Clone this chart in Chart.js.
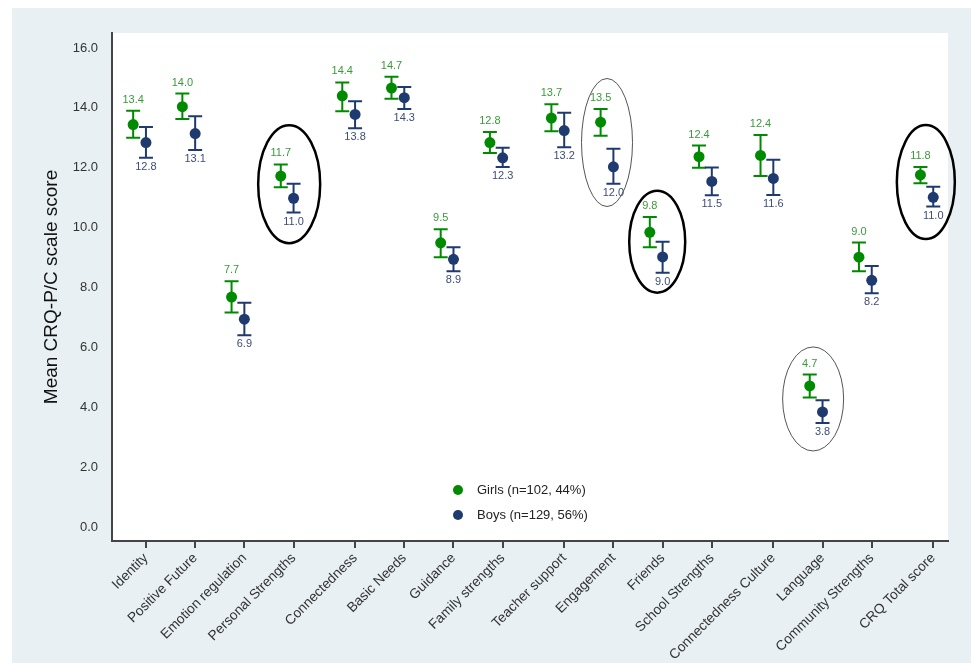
<!DOCTYPE html>
<html><head><meta charset="utf-8">
<script src="https://cdn.jsdelivr.net/npm/chart.js@4.4.1/dist/chart.umd.min.js"></script>
<style>html,body{margin:0;padding:0;background:#fff}#wrap{width:971px;height:663px}</style>
</head><body><div id="wrap"><canvas id="c" width="971" height="663"></canvas></div>
<script>
const categories = ['Identity','Positive Future','Emotion regulation','Personal Strengths','Connectedness','Basic Needs','Guidance','Family strengths','Teacher support','Engagement','Friends','School Strengths','Connectedness Culture','Language','Community Strengths','CRQ Total score'];
const xPositions = [0,1,2,3,4.25,5.25,6.25,7.25,8.5,9.5,10.5,11.5,12.75,13.75,14.75,16];
const girlsMean  = [13.44,14.04,7.68,11.72,14.40,14.66,9.49,12.84,13.66,13.52,9.84,12.37,12.41,4.71,9.01,11.76];
const girlsLower = [13.00,13.63,7.16,11.35,13.89,14.30,9.01,12.49,13.22,13.07,9.34,12.00,11.72,4.32,8.54,11.48];
const girlsUpper = [13.90,14.48,8.21,12.11,14.85,15.04,9.94,13.19,14.12,13.96,10.35,12.74,13.09,5.09,9.50,12.02];
const boysMean   = [12.84,13.14,6.94,10.98,13.78,14.34,8.94,12.33,13.24,12.03,9.02,11.54,11.64,3.84,8.24,11.01];
const boysLower  = [12.33,12.59,6.40,10.50,13.32,13.96,8.54,12.02,12.68,11.46,8.49,11.08,11.09,3.47,7.81,10.70];
const boysUpper  = [13.36,13.72,7.49,11.46,14.22,14.70,9.34,12.67,13.84,12.63,9.53,12.01,12.27,4.23,8.72,11.36];
const yTicks = [0,2,4,6,8,10,12,14,16];
const seriesLabels = ['Girls (n=102, 44%)','Boys (n=129, 56%)'];
const yTitle = 'Mean CRQ-P/C scale score';

const GREEN = '#008a00', NAVY = '#1f3a6e';
const GIRL_OFFSET = -0.26;

// highlight ellipses: index, radii, small pixel shifts, stroke style
const ellipses = [
  {i:3,  rx:31,   ry:59, dx:2,  dy:-3, lw:2.5, color:'#000'},
  {i:10, rx:28,   ry:51, dx:1,  dy:-3, lw:2.5, color:'#000'},
  {i:15, rx:29,   ry:57, dx:-1, dy:-4, lw:2.5, color:'#000'},
  {i:9,  rx:25.5, ry:64, dx:0,  dy:-2, lw:1,   color:'#555'},
  {i:13, rx:30.5, ry:52, dx:-3, dy:0,  lw:1,   color:'#555'}
];

const girlsData = girlsMean.map((v,i)=>({x:xPositions[i]+GIRL_OFFSET, y:v, lo:girlsLower[i], hi:girlsUpper[i]}));
const boysData  = boysMean.map((v,i)=>({x:xPositions[i], y:v, lo:boysLower[i], hi:boysUpper[i]}));

const decor = {
  id:'decor',
  beforeDraw(chart){
    const {ctx, chartArea:a} = chart;
    ctx.save();
    ctx.fillStyle = '#ffffff'; ctx.fillRect(0,0,chart.width,chart.height);
    ctx.fillStyle = '#e8f0f3'; ctx.fillRect(12,8,chart.width-12,chart.height-8);
    ctx.fillStyle = '#ffffff'; ctx.fillRect(a.left,a.top,a.right-a.left,a.bottom-a.top);
    ctx.restore();
  },
  beforeDatasetsDraw(chart){
    const {ctx, scales:{x,y}} = chart;
    ctx.save();
    chart.data.datasets.forEach(ds=>{
      ctx.strokeStyle = ds.borderColor; ctx.lineWidth = 2;
      ds.data.forEach(p=>{
        const px = x.getPixelForValue(p.x), pl = y.getPixelForValue(p.lo), ph = y.getPixelForValue(p.hi);
        ctx.beginPath();
        ctx.moveTo(px,pl); ctx.lineTo(px,ph);
        ctx.moveTo(px-7,pl); ctx.lineTo(px+7,pl);
        ctx.moveTo(px-7,ph); ctx.lineTo(px+7,ph);
        ctx.stroke();
      });
    });
    ctx.restore();
  },
  afterDatasetsDraw(chart){
    const {ctx, scales:{x,y}} = chart;
    ctx.save();
    ctx.font = '11px "Liberation Sans", Arial, sans-serif';
    ctx.textAlign = 'center'; ctx.textBaseline = 'middle';
    girlsData.forEach(p=>{
      ctx.fillStyle = '#3a9a3a';
      ctx.fillText(p.y.toFixed(1), x.getPixelForValue(p.x), y.getPixelForValue(p.hi)-11);
    });
    boysData.forEach(p=>{
      ctx.fillStyle = '#3d4c7a';
      ctx.fillText(p.y.toFixed(1), x.getPixelForValue(p.x), y.getPixelForValue(p.lo)+9);
    });
    // ellipses
    ellipses.forEach(e=>{
      const cx = (x.getPixelForValue(girlsData[e.i].x)+x.getPixelForValue(boysData[e.i].x))/2 + e.dx;
      const cy = (y.getPixelForValue(girlsData[e.i].y)+y.getPixelForValue(boysData[e.i].y))/2 + e.dy;
      ctx.beginPath(); ctx.strokeStyle = e.color; ctx.lineWidth = e.lw;
      ctx.ellipse(cx,cy,e.rx,e.ry,0,0,Math.PI*2); ctx.stroke();
    });
    // legend
    ctx.font = '13px "Liberation Sans", Arial, sans-serif';
    ctx.textAlign = 'left';
    chart.data.datasets.forEach((ds,k)=>{
      const ly = 490 + k*25;
      ctx.fillStyle = ds.backgroundColor;
      ctx.beginPath(); ctx.arc(458, ly, 5, 0, Math.PI*2); ctx.fill();
      ctx.fillStyle = '#222';
      ctx.fillText(ds.label, 477, ly);
    });
    ctx.restore();
  }
};

new Chart(document.getElementById('c'), {
  type:'scatter',
  data:{datasets:[
    {label:seriesLabels[0], data:girlsData, backgroundColor:GREEN, borderColor:GREEN, pointRadius:5.5, pointHoverRadius:5.5, pointBorderWidth:0},
    {label:seriesLabels[1], data:boysData, backgroundColor:NAVY, borderColor:NAVY, pointRadius:5.5, pointHoverRadius:5.5, pointBorderWidth:0}
  ]},
  options:{
    responsive:false, animation:false, devicePixelRatio:1,
    layout:{padding:{left:0,top:33,right:23,bottom:0}},
    plugins:{legend:{display:false}, tooltip:{enabled:false}},
    scales:{
      x:{type:'linear', min:-0.69, max:16.3,
        afterBuildTicks(s){ s.ticks = xPositions.map(v=>({value:v})); },
        afterFit(s){ s.height = 122; },
        ticks:{autoSkip:false, minRotation:45, maxRotation:45, padding:2, color:'#333',
          font:{family:'"Liberation Sans", Arial, sans-serif', size:13.75},
          callback:(v,i)=>categories[i]},
        grid:{drawOnChartArea:false, drawTicks:true, tickLength:7, color:'#444', lineWidth:2},
        border:{display:true, color:'#444', width:2}
      },
      y:{type:'linear', min:-0.47, max:16.5,
        afterBuildTicks(s){ s.ticks = yTicks.map(v=>({value:v})); },
        afterFit(s){ s.width = 112; },
        ticks:{padding:14, color:'#333', font:{family:'"Liberation Sans", Arial, sans-serif', size:13},
          callback:v=>Number(v).toFixed(1)},
        grid:{drawOnChartArea:false, drawTicks:false},
        border:{display:true, color:'#444', width:2},
        title:{display:true, text:yTitle, color:'#111', font:{family:'"Liberation Sans", Arial, sans-serif', size:19}, padding:{top:40,bottom:0}}
      }
    }
  },
  plugins:[decor]
});
</script></body></html>
